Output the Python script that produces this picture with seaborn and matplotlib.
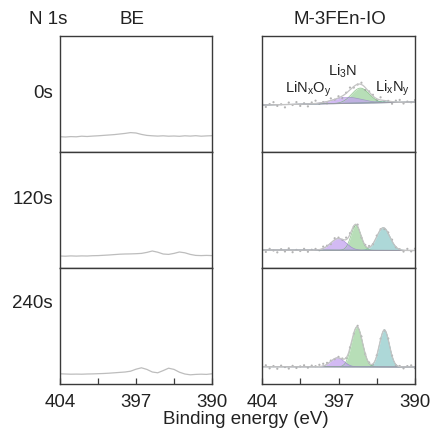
import numpy as np
import pandas as pd
import matplotlib
matplotlib.use("Agg")
import matplotlib.pyplot as plt
import seaborn as sns

sns.set_theme(style="white")
plt.rcParams['font.family'] = ['Liberation Sans', 'DejaVu Sans']
plt.rcParams['mathtext.fontset'] = 'custom'
plt.rcParams['mathtext.rm'] = 'Liberation Sans'

# ---------------- data ----------------
times = ["0s", "120s", "240s"]
xticks_major = [404, 397, 390]
xticks_minor = [400.5, 393.5]

# left column (BE): raw spectra, 404 -> 390 eV in 0.5 eV steps (a.u.)
be_0s = [15.3, 15.0, 15.4, 15.2, 15.8, 15.5, 15.9, 16.2, 16.6, 17.0, 17.4, 18.0, 18.6, 19.4, 19.0,
         17.6, 16.6, 16.2, 15.9, 16.2, 15.8, 16.0, 15.7, 16.2, 15.9, 16.3, 15.8, 16.1, 16.3]
be_120s = [12.0, 11.8, 12.1, 11.9, 12.1, 12.0, 12.3, 12.4, 12.7, 13.0, 13.4, 13.8, 14.0, 14.1, 14.3,
           14.6, 15.6, 17.0, 15.8, 14.0, 13.6, 14.6, 16.0, 15.2, 13.6, 12.6, 12.4, 12.6, 12.4]
be_240s = [10.2, 10.0, 9.8, 9.9, 9.8, 10.0, 10.1, 10.3, 10.5, 10.8, 11.2, 11.6, 12.0, 12.8, 14.8,
           16.2, 14.6, 12.0, 11.2, 13.4, 15.8, 14.6, 11.8, 10.0, 9.2, 9.6, 9.8, 9.6, 10.2]
be_series = [be_0s, be_120s, be_240s]

# right column (M-3FEn-IO): fitted components (center eV, height, sigma eV)
bg_left = [47.0, 18.0, 17.3]     # background at 404 eV
bg_right = [50.0, 17.5, 17.0]    # background at 390 eV
linxoy = [(396.2, 6.0, 1.3), (397.0, 11.7, 0.72), (397.1, 9.0, 0.6)]
li3n = [(395.0, 15.0, 0.8), (395.4, 25.0, 0.45), (395.3, 40.0, 0.5)]
lixny = [(392.8, 1.5, 0.6), (392.9, 22.7, 0.6), (392.8, 37.0, 0.45)]

# residuals of raw points about the fit envelope (404 -> 390 eV)
res_0s = [1.5, -2.0, 0.8, 2.6, -1.2, 0.4, -2.8, 1.9, -0.6, 2.2, -1.7, 0.9, -2.4, 1.3, 2.8, -0.9,
          0.3, -1.8, 2.1, -0.4, 1.6, -2.2, 0.7, 2.4, -1.1, -0.3, 1.8, -2.6, 0.5, 1.2, -1.5, 2.7,
          -0.8, 0.2, -2.1, 1.4, 2.3, -1.3, 0.6, -0.2, 1.9]
res_120s = [0.6, -1.9, 1.2, -0.5, -2.3, 0.9, -1.4, 1.7, -2.1, 0.2, -0.9, 1.3, -1.6, 0.4, 1.1, -0.7,
            1.8, 0.5, -1.2, 1.6, 0.9, -0.6, 2.0, 1.2, -0.8, 1.4, -1.0, 0.7, 1.5, -0.4, 1.0, 0.3,
            -1.1, 0.8, 1.4, -0.5, 0.2, -1.3, 1.6, -0.9, 1.8]
res_240s = [-0.8, 1.4, -1.6, 0.7, -2.0, 1.1, -0.3, -1.8, 0.9, -1.2, 0.4, 1.5, -0.9, 1.2, 0.6, 1.8,
            2.2, 1.4, 0.8, -0.6, 1.0, 0.5, -0.4, 0.9, -0.7, 1.2, 1.4, -0.3, 0.6, -0.9, 0.4, 0.8,
            -0.5, 1.1, 0.3, -0.8, 0.7, -1.4, 0.9, 1.6, -1.1]
res_series = [res_0s, res_120s, res_240s]

# ---------------- figure ----------------
W, H = 435, 442
fig = plt.figure(figsize=(W / 100, H / 100), dpi=100)

def px_axes(x0, y0, x1, y1):
    return fig.add_axes([x0 / W, 1 - y1 / H, (x1 - x0) / W, (y1 - y0) / H])

rows_px = [(36, 152), (152, 268), (268, 384)]
spine_c = "#3a3a3a"
line_gray = "#bdbdbd"
cols = {"p": "#c3a3f0", "g": "#9fd49f", "t": "#92cccc"}
edges = {"p": "#9b7fd0", "g": "#74b374", "t": "#5fa8a8"}

def style_axes(ax, bottom):
    ax.set_xlim(404, 390)
    ax.set_ylim(0, 116)
    ax.set_yticks([])
    ax.set_xlabel("")
    ax.set_ylabel("")
    for s in ax.spines.values():
        s.set_visible(True)
        s.set_color(spine_c)
        s.set_linewidth(1.0)
    if bottom:
        ax.set_xticks(xticks_major)
        ax.set_xticks(xticks_minor, minor=True)
        ax.set_xticklabels([str(v) for v in xticks_major], fontsize=13.5, color="#222222")
        ax.tick_params(axis="x", which="both", direction="in", length=4, width=0.9,
                       color=spine_c, bottom=True, top=False, pad=7.5)
    else:
        ax.set_xticks([])

def gauss(x, c, h, s):
    return h * np.exp(-0.5 * ((x - c) / s) ** 2)

xfine = np.linspace(404, 390, 400)

for i, (y0, y1) in enumerate(rows_px):
    bottom = (i == 2)
    # left column
    axL = px_axes(60, y0, 212, y1)
    vals = be_series[i]
    dfL = pd.DataFrame({"BE": np.linspace(404, 390, len(vals)), "I": vals})
    sns.lineplot(data=dfL, x="BE", y="I", ax=axL, color=line_gray, lw=0.9)
    style_axes(axL, bottom)

    # right column
    axR = px_axes(262, y0, 415, y1)
    bg = bg_left[i] + (bg_right[i] - bg_left[i]) * (404 - xfine) / 14.0
    comps = {"p": gauss(xfine, *linxoy[i]), "g": gauss(xfine, *li3n[i]), "t": gauss(xfine, *lixny[i])}
    for k in ["t", "g", "p"]:
        axR.fill_between(xfine, bg, bg + comps[k], color=cols[k], alpha=0.75, lw=0)
        axR.plot(xfine, bg + comps[k], color=edges[k], lw=0.5, alpha=0.8)
    env = bg + comps["p"] + comps["g"] + comps["t"]
    axR.plot(xfine, bg, color="#9a9aa6", lw=0.8)
    dfE = pd.DataFrame({"BE": xfine, "I": env})
    sns.lineplot(data=dfE, x="BE", y="I", ax=axR, color="#c4c4c4", lw=0.9)
    res = res_series[i]
    xr = np.linspace(404, 390, len(res))
    bgr = bg_left[i] + (bg_right[i] - bg_left[i]) * (404 - xr) / 14.0
    envr = bgr + gauss(xr, *linxoy[i]) + gauss(xr, *li3n[i]) + gauss(xr, *lixny[i])
    dfS = pd.DataFrame({"BE": xr, "I": envr + np.array(res)})
    sns.scatterplot(data=dfS, x="BE", y="I", ax=axR, s=2.5, color="#b4b4b4", edgecolor="none")
    style_axes(axR, bottom)

# annotations placed in pixel coordinates
def ftext(xp, yp, s, **kw):
    fig.text(xp / W, 1 - yp / H, s, **kw)

ftext(48, 20, "N 1s", ha="center", va="center", fontsize=13.5, color="#222222")
ftext(132, 20, "BE", ha="center", va="center", fontsize=13.5, color="#222222")
ftext(340, 20, "M-3FEn-IO", ha="center", va="center", fontsize=13.5, color="#222222")
ftext(53, 93, times[0], ha="right", va="center", fontsize=13.5, color="#222222")
ftext(53, 200, times[1], ha="right", va="center", fontsize=13.5, color="#222222")
ftext(53, 303, times[2], ha="right", va="center", fontsize=13.5, color="#222222")
ftext(246, 420, "Binding energy (eV)", ha="center", va="center", fontsize=13.5, color="#222222")
ftext(308, 89, "LiN$_\\mathregular{x}$O$_\\mathregular{y}$", ha="center", va="center", fontsize=10.5, color="#222222")
ftext(343, 71, "Li$_\\mathregular{3}$N", ha="center", va="center", fontsize=10.5, color="#222222")
ftext(392, 88, "Li$_\\mathregular{x}$N$_\\mathregular{y}$", ha="center", va="center", fontsize=10.5, color="#222222")

fig.savefig("out.png", dpi=100, facecolor="white")
